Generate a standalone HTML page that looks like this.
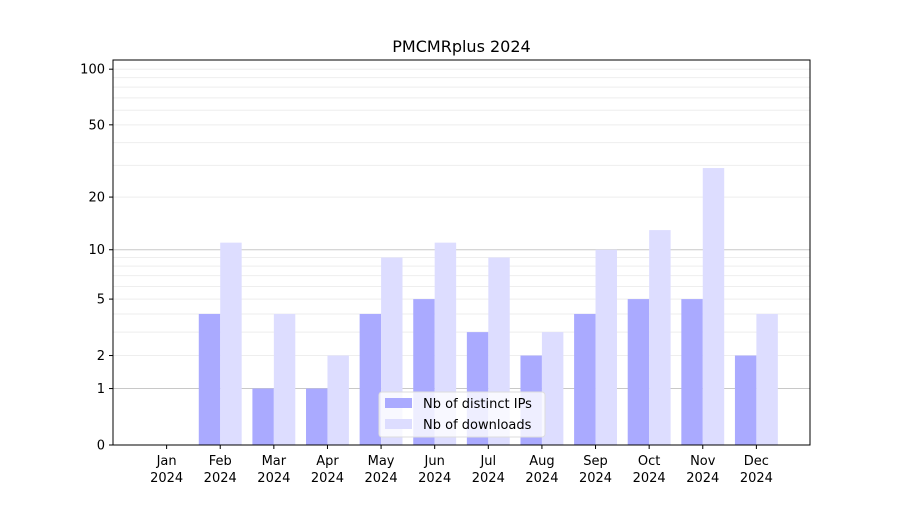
<!DOCTYPE html>
<html><head><meta charset="utf-8"><style>
body{margin:0;background:#fff;font-family:"Liberation Sans","DejaVu Sans",sans-serif;}
svg text{font-family:"DejaVu Sans","Liberation Sans",sans-serif;font-size:13px;fill:#000}
</style></head><body>
<svg id="c" width="900" height="500"></svg>
<script>
const months=["Jan","Feb","Mar","Apr","May","Jun","Jul","Aug","Sep","Oct","Nov","Dec"];
const ips=[0,4,1,1,4,5,3,2,4,5,5,2];
const downloads=[0,11,4,2,9,11,9,3,10,13,29,4];
const yTicks=[0,1,2,5,10,20,50,100];
const L=113,R=810,T=60,B=445;
const step=(R-L)/13;
const X=i=>L+(i+1)*step;
const Y=v=>B-187.5*Math.log10(1+v);
const s=document.getElementById('c');const NS="http://www.w3.org/2000/svg";
function mk(t,a,p){const e=document.createElementNS(NS,t);for(const k in a)e.setAttribute(k,a[k]);(p||s).appendChild(e);return e;}
// grid
const g=mk('g',{});


[1,10,100].forEach(d=>{for(let m=1;m<10;m++){const v=d*m;if(v>100)break;const y=Y(v);if(y<T)continue;
const major=(m===1&&d<100);
mk('line',{x1:L,x2:R,y1:y,y2:y,stroke:major?'#c8c8c8':'#eeeeee','stroke-width':1},g);}});
// bars
const bw=step*0.4;
months.forEach((m,i)=>{
const a=mk('rect',{x:X(i)-bw,y:Y(ips[i]),width:bw,height:B-Y(ips[i]),fill:'#aaaaff'});


const b=mk('rect',{x:X(i),y:Y(downloads[i]),width:bw,height:B-Y(downloads[i]),fill:'#ddddff'});


mk('line',{x1:X(i),x2:X(i),y1:B,y2:B+4,stroke:'#000'});
const t=mk('text',{x:X(i),y:B+20,'text-anchor':'middle'});t.textContent=m;


const t2=mk('text',{x:X(i),y:B+37,'text-anchor':'middle'});t2.textContent='2024';
});
yTicks.forEach(v=>{const y=Y(v);mk('line',{x1:L-4,x2:L,y1:y,y2:y,stroke:'#000'});
const t=mk('text',{x:L-8,y:y+4.5,'text-anchor':'end'});t.textContent=v;

});
const fr=mk('rect',{x:L,y:T,width:R-L,height:B-T,fill:'none',stroke:'#000','stroke-width':1});


const ti=mk('text',{x:(L+R)/2,y:52,'text-anchor':'middle',style:'font-size:16px'});ti.textContent='PMCMRplus 2024';


// legend
const lg=mk('g',{});


mk('rect',{x:379,y:392,width:166,height:45,fill:'#fff','fill-opacity':0.8,stroke:'#ddd',rx:3},lg);
mk('rect',{x:385,y:398,width:27,height:10,fill:'#aaaaff'},lg);
mk('rect',{x:385,y:419,width:27,height:10,fill:'#ddddff'},lg);
let lt=mk('text',{x:423,y:408},lg);lt.textContent='Nb of distinct IPs';
lt=mk('text',{x:423,y:429},lg);lt.textContent='Nb of downloads';
</script>
</body></html>
